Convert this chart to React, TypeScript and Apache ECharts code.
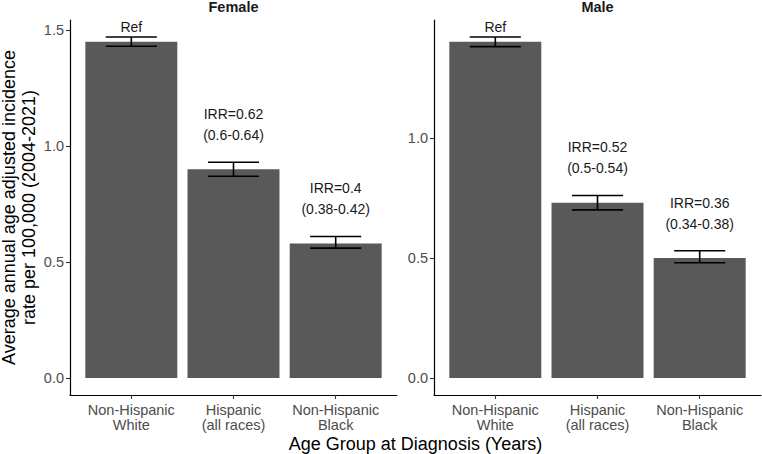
import React, { useEffect, useRef } from "react";
import * as echarts from "echarts";

// Incidence rates per 100,000 by ethnicity, with 95% confidence limits
const categories = ["Non-Hispanic\nWhite", "Hispanic\n(all races)", "Non-Hispanic\nBlack"];
const panels = ["Female", "Male"];

const femaleRate = [1.45, 0.9, 0.58];
const femaleLower = [1.43, 0.87, 0.56];
const femaleUpper = [1.47, 0.93, 0.61];
const femaleLabels = ["Ref", "IRR=0.62\n(0.6-0.64)", "IRR=0.4\n(0.38-0.42)"];

const maleRate = [1.4, 0.73, 0.5];
const maleLower = [1.38, 0.7, 0.48];
const maleUpper = [1.42, 0.76, 0.53];
const maleLabels = ["Ref", "IRR=0.52\n(0.5-0.54)", "IRR=0.36\n(0.34-0.38)"];

const femaleTicks = [0, 0.5, 1.0, 1.5];
const maleTicks = [0, 0.5, 1.0];

const FONT = "'Liberation Sans', Arial, Helvetica, sans-serif";
const W = 762;
const H = 454;
const PANEL_TOP = 20;
const PANEL_H = 375;
const PANEL_W = 327;
const PANEL_LEFT = [70, 434];
const X_MIN = 0.4;
const X_MAX = 3.6;
const BAR_WIDTH = (PANEL_W / (X_MAX - X_MIN)) * 0.9;

export default function App() {
  const ref = useRef<HTMLDivElement>(null);

  useEffect(() => {
    if (!ref.current) return;
    const chart = echarts.init(ref.current, null, { renderer: "svg" });

    const sets = [
      { rate: femaleRate, lower: femaleLower, upper: femaleUpper, labels: femaleLabels, ticks: femaleTicks },
      { rate: maleRate, lower: maleLower, upper: maleUpper, labels: maleLabels, ticks: maleTicks },
    ];

    const grid: any[] = [];
    const xAxis: any[] = [];
    const yAxis: any[] = [];
    const series: any[] = [];
    const graphic: any[] = [];

    sets.forEach((s, i) => {
      const top = Math.max(...s.upper);
      grid.push({ left: PANEL_LEFT[i], top: PANEL_TOP, width: PANEL_W, height: PANEL_H, containLabel: false });
      const xTicks = categories.map((_, k) => k + 1);
      xAxis.push({
        type: "value",
        gridIndex: i,
        min: X_MIN,
        max: X_MAX,
        splitLine: { show: false },
        axisLine: { show: true, onZero: false, lineStyle: { color: "#000", width: 1.2 } },
        axisTick: { show: true, length: 4, customValues: xTicks, lineStyle: { color: "#333", width: 1.1 } },
        axisLabel: {
          show: true,
          customValues: xTicks,
          formatter: (v: number) => categories[Math.round(v) - 1] ?? "",
          color: "#4d4d4d",
          fontFamily: FONT,
          fontSize: 14.5,
          lineHeight: 15,
          margin: 7,
        },
      });
      yAxis.push({
        type: "value",
        gridIndex: i,
        min: -0.05 * top,
        max: top * 1.05,
        splitLine: { show: false },
        axisLine: { show: true, onZero: false, lineStyle: { color: "#000", width: 1.2 } },
        axisTick: { show: true, length: 4, customValues: s.ticks, lineStyle: { color: "#333", width: 1.1 } },
        axisLabel: {
          show: true,
          customValues: s.ticks,
          formatter: (v: number) => v.toFixed(1),
          color: "#4d4d4d",
          fontFamily: FONT,
          fontSize: 14.5,
          margin: 6,
        },
      });
      series.push({
        type: "bar",
        xAxisIndex: i,
        yAxisIndex: i,
        barWidth: BAR_WIDTH,
        z: 2,
        itemStyle: { color: "#595959" },
        data: s.rate.map((v, k) => [k + 1, v]),
      });
      const labels = s.labels;
      series.push({
        type: "custom",
        xAxisIndex: i,
        yAxisIndex: i,
        clip: false,
        z: 10,
        encode: { x: 0, y: [1, 2] },
        data: s.lower.map((lo, k) => [k + 1, lo, s.upper[k]]),
        renderItem: (params: any, api: any) => {
          const x = api.value(0);
          const lo = api.value(1);
          const hi = api.value(2);
          const pHi = api.coord([x, hi]);
          const pLo = api.coord([x, lo]);
          const left = api.coord([x - 0.25, hi])[0];
          const right = api.coord([x + 0.25, hi])[0];
          const stroke = { stroke: "#000", lineWidth: 1.6 };
          const children: any[] = [
            { type: "line", shape: { x1: pHi[0], y1: pHi[1], x2: pLo[0], y2: pLo[1] }, style: stroke },
            { type: "line", shape: { x1: left, y1: pHi[1], x2: right, y2: pHi[1] }, style: stroke },
            { type: "line", shape: { x1: left, y1: pLo[1], x2: right, y2: pLo[1] }, style: stroke },
          ];
          const lines = (labels[params.dataIndex] || "").split("\n");
          lines.forEach((t: string, j: number) => {
            const off = lines.length === 1 ? 10 : 27 + (lines.length - 1 - j) * 21;
            children.push({
              type: "text",
              x: pHi[0],
              y: pHi[1] - off,
              style: {
                text: t,
                fill: "#1a1a1a",
                font: `14px ${FONT}`,
                textAlign: "center",
                textVerticalAlign: "middle",
              },
            });
          });
          return { type: "group", children };
        },
      });
      graphic.push({
        type: "text",
        x: PANEL_LEFT[i] + PANEL_W / 2,
        y: 7,
        style: {
          text: panels[i],
          fill: "#1a1a1a",
          font: `bold 14.5px ${FONT}`,
          textAlign: "center",
          textVerticalAlign: "middle",
        },
      });
    });

    const yTitle = ["Average annual age adjusted incidence", "rate per 100,000 (2004-2021)"];
    yTitle.forEach((t, j) => {
      graphic.push({
        type: "text",
        x: 9 + j * 20,
        y: PANEL_TOP + PANEL_H / 2,
        rotation: Math.PI / 2,
        style: {
          text: t,
          fill: "#000",
          font: `18px ${FONT}`,
          textAlign: "center",
          textVerticalAlign: "middle",
        },
      });
    });
    graphic.push({
      type: "text",
      x: (PANEL_LEFT[0] + PANEL_LEFT[1] + PANEL_W) / 2,
      y: 444,
      style: {
        text: "Age Group at Diagnosis (Years)",
        fill: "#000",
        font: `18px ${FONT}`,
        textAlign: "center",
        textVerticalAlign: "middle",
      },
    });

    chart.setOption({
      animation: false,
      backgroundColor: "#fff",
      grid,
      xAxis,
      yAxis,
      series,
      graphic,
    });

    return () => chart.dispose();
  }, []);

  return <div ref={ref} style={{ position: "fixed", left: 0, top: 0, width: W, height: H }} />;
}
